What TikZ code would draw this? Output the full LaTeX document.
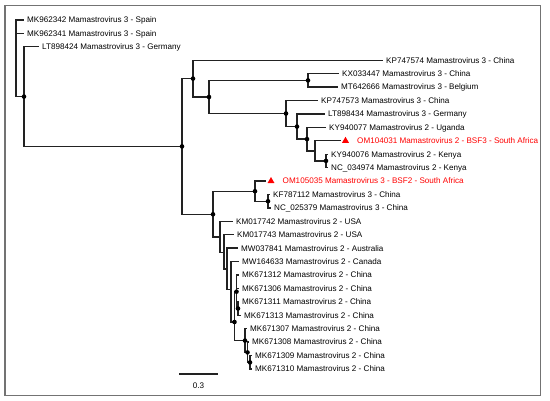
\documentclass[tikz,border=0pt]{standalone}
\usepackage{fontspec}
\setmainfont{Liberation Sans}
\usetikzlibrary{shapes.geometric}

\newcommand\leaffont{\fontsize{8.1}{9.7}\selectfont}
\definecolor{treeline}{HTML}{222222}
\definecolor{hired}{HTML}{FF0000}

\tikzset{
  branch/.style={draw=treeline, line width=1.3pt, line cap=rect},
  leaf/.style={anchor=west, inner sep=0pt, xshift=4pt, text height=5.8pt, text depth=0pt, font=\leaffont},
  marker/.style={regular polygon, regular polygon sides=3, fill=hired, inner sep=0pt, minimum size=8pt},
  frame/.style={draw=black!55, line width=1.2pt}
}

\begin{document}
\begin{tikzpicture}[x=1pt, y=-1pt]
    \useasboundingbox (0,0) rectangle (550,401);
    \draw[frame] (5,5.5) rectangle (540.5,395.5);

    % leaves: number/tip/label, rows 13.42 apart
    \foreach \i/\tx/\lab in {
      1/23/MK962342 Mamastrovirus 3 - Spain,
      2/23/MK962341 Mamastrovirus 3 - Spain,
      3/38/LT898424 Mamastrovirus 3 - Germany,
      4/382/KP747574 Mamastrovirus 3 - China,
      5/338/KX033447 Mamastrovirus 3 - China,
      6/337/MT642666 Mamastrovirus 3 - Belgium,
      7/317/KP747573 Mamastrovirus 3 - China,
      8/324/LT898434 Mamastrovirus 3 - Germany,
      9/325/KY940077 Mamastrovirus 2 - Uganda,
      11/327/KY940076 Mamastrovirus 2 - Kenya,
      12/327/NC\_034974 Mamastrovirus 2 - Kenya,
      14/269/KF787112 Mamastrovirus 3 - China,
      15/270/NC\_025379 Mamastrovirus 3 - China,
      16/232/KM017742 Mamastrovirus 2 - USA,
      17/233/KM017743 Mamastrovirus 2 - USA,
      18/237/MW037841 Mamastrovirus 2 - Australia,
      19/238/MW164633 Mamastrovirus 2 - Canada,
      20/238/MK671312 Mamastrovirus 2 - China,
      21/238/MK671306 Mamastrovirus 2 - China,
      22/238/MK671311 Mamastrovirus 2 - China,
      23/240/MK671313 Mamastrovirus 2 - China,
      24/246/MK671307 Mamastrovirus 2 - China,
      25/248/MK671308 Mamastrovirus 2 - China,
      26/251/MK671309 Mamastrovirus 2 - China,
      27/251/MK671310 Mamastrovirus 2 - China}{
      \coordinate (t\i) at (\tx, {20+(\i-1)*13.42});
      \node[leaf] (l\i) at (t\i) {\lab};
    }

    % the two new sequences
    \coordinate (t10) at (340, {20+9*13.42});
    \coordinate (t13) at (265.5, {20+12*13.42});
    \node[marker] (m10) at ([xshift=5.5pt]t10) {};
    \node[marker] (m13) at ([xshift=5.5pt]t13) {};
    \node[leaf, hired, xshift=13pt] (l10) at (t10) {OM104031 Mamastrovirus 2 - BSF3 - South Africa};
    \node[leaf, hired, xshift=13pt] (l13) at (t13) {OM105035 Mamastrovirus 3 - BSF2 - South Africa};

    % internal nodes
    \coordinate (R) at (16,58.3);
    \coordinate (A) at (24,96.6);
    \coordinate (B) at (182,146.4);
    \coordinate (C) at (193,78.6);
    \coordinate (E) at (209,97);
    \coordinate (F) at (308,80.4);
    \coordinate (G) at (286,113.5);
    \coordinate (H) at (297,126.6);
    \coordinate (I) at (307,139.1);
    \coordinate (J) at (315,150.9);
    \coordinate (K) at (326,160.9);
    \coordinate (D) at (213,214.3);
    \coordinate (L) at (255,191.2);
    \coordinate (N) at (268,201.2);
    \coordinate (M) at (220,237.1);
    \coordinate (O) at (224,252.2);
    \coordinate (P) at (227,269);
    \coordinate (Q) at (231,289.2);
    \coordinate (V) at (234.5,322);
    \coordinate (X) at (236.5,291.7);
    \coordinate (W) at (238,308.5);
    \coordinate (U) at (245,340.6);
    \coordinate (T) at (247.5,352.4);
    \coordinate (S) at (250,362.4);

    % branches
    \draw[branch] (t1) -| (R) |- (A);
    \draw[branch] (R |- t2) -- (t2);
    \draw[branch] (t3) -| (A) |- (B);
    \draw[branch] (C) -| (B) |- (D);
    \draw[branch] (t4) -| (C) |- (E);
    \draw[branch] (F) -| (E) |- (G);
    \draw[branch] (t5) -| (F) |- (t6);
    \draw[branch] (t7) -| (G) |- (H);
    \draw[branch] (t8) -| (H) |- (I);
    \draw[branch] (t9) -| (I) |- (J);
    \draw[branch] (t10) -| (J) |- (K);
    \draw[branch] (t11) -| (K) |- (t12);
    \draw[branch] (L) -| (D) |- (M);
    \draw[branch] (t13) -| (L) |- (N);
    \draw[branch] (t14) -| (N) |- (t15);
    \draw[branch] (t16) -| (M) |- (O);
    \draw[branch] (t17) -| (O) |- (P);
    \draw[branch] (t18) -| (P) |- (Q);
    \draw[branch] (t19) -| (Q) |- (V);
    \draw[branch] (X) -| (V) |- (U);
    \draw[branch] (t20) -| (X) |- (W);
    \draw[branch] (X |- t21) -- (t21);
    \draw[branch] (t22) -| (W) |- (t23);
    \draw[branch] (t24) -| (U) |- (T);
    \draw[branch] (t25) -| (T) |- (S);
    \draw[branch] (t26) -| (S) |- (t27);

    % supported nodes
    \foreach \n in {A,B,C,E,F,G,H,I,K,D,L,N,X,W,V,U,T,S}
      \fill[black] (\n) circle (2.3pt);

    % scale bar
    \coordinate (s0) at (180,374);
    \coordinate (s1) at (217,374);
    \draw[branch] (s0) -- node[below=8pt, inner sep=0pt, text height=5.8pt, text depth=0pt, font=\leaffont, black] (slab) {0.3} (s1);
\end{tikzpicture}
\end{document}
